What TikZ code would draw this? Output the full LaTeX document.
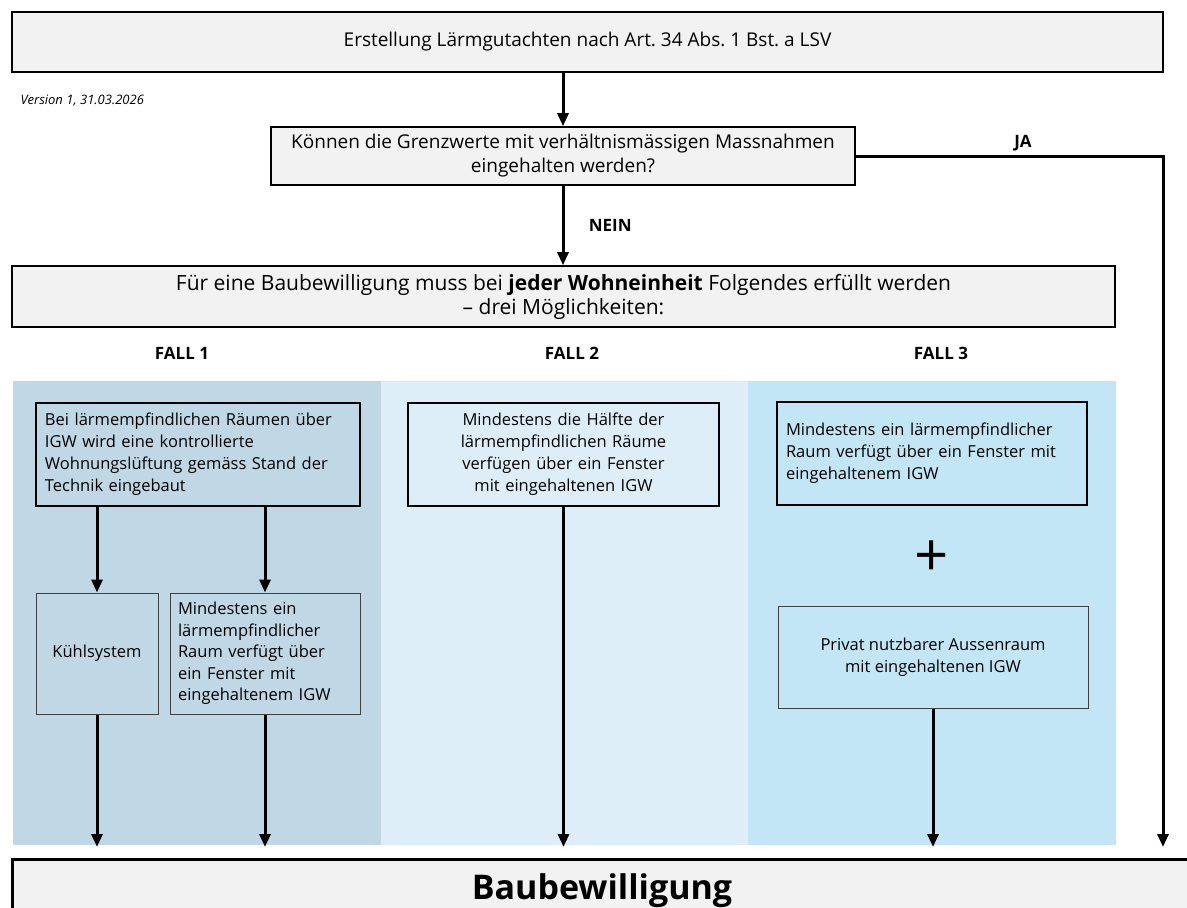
\documentclass[tikz,border=0pt]{standalone}
\usepackage{fontspec}
\setmainfont{Open Sans}
\usepackage{xcolor}
\usetikzlibrary{arrows.meta, positioning, calc}

\definecolor{kastengrau}{HTML}{F2F2F2}
\definecolor{falleins}{HTML}{C0D8E5}
\definecolor{fallzwei}{HTML}{DEEEF8}
\definecolor{falldrei}{HTML}{C3E6F6}
\newcommand{\schrift}[2]{\fontsize{#1}{#2}\selectfont}

\begin{document}
\begin{tikzpicture}[x=1pt, y=-1pt,
    kasten/.style={draw, line width=1.6pt, fill=kastengrau, align=center},
    fallbox/.style={draw, line width=1.4pt, inner sep=9pt, font=\schrift{16.5}{22}},
    unterbox/.style={draw=black!75, line width=1pt, inner sep=8pt, font=\schrift{16.5}{21.5}},
    pfeil/.style={line width=3pt, -{Triangle[length=13pt, width=11pt]}},
    titel/.style={font=\bfseries\schrift{17}{19}}]
    \useasboundingbox (0,0) rectangle (1187,908);

    % Start
    \node[kasten, minimum width=1151pt, minimum height=60pt, font=\schrift{19}{22}] (gutachten) at (587.5,42) {Erstellung Lärmgutachten nach Art.~34 Abs.~1 Bst.~a LSV};
    \node[anchor=west, font=\itshape\schrift{13}{15}] (version) at (17,101) {Version 1, 31.03.2026};

    % Frage
    \node[kasten, minimum width=584pt, minimum height=58pt, font=\schrift{19}{24}] (frage) at (563,156) {Können die Grenzwerte mit verhältnismässigen Massnahmen\\eingehalten werden?};
    \draw[pfeil] (frage.north |- gutachten.south) -- (frage.north);

    % Bedingung
    \node[kasten, minimum width=1103pt, minimum height=61pt, font=\schrift{21}{24}] (bedingung) at (563.5,296.5) {Für eine Baubewilligung muss bei \textbf{jeder Wohneinheit} Folgendes erfüllt werden\\– drei Möglichkeiten:};
    \draw[pfeil] (frage.south) -- (frage.south |- bedingung.north) node[midway, right=21pt, titel] (nein) {NEIN};

    % JA
    \coordinate (jaecke) at (1163,156);
    \coordinate (jaende) at (1163,847);
    \draw[pfeil] (frage.east) -- (jaecke) -- (jaende);
    \node[titel] (ja) at (1023,143) {JA};

    % Faelle
    \fill[falleins] (13,381) rectangle (381,845);
    \fill[fallzwei] (381,381) rectangle (748,845);
    \fill[falldrei] (748,381) rectangle (1116,845);
    \node[titel] (fall1) at (182,353) {FALL 1};
    \node[titel] (fall2) at (572,353) {FALL 2};
    \node[titel] (fall3) at (941,353) {FALL 3};

    % Fall 1
    \node[fallbox, text width=306pt, minimum height=103pt, align=left] (lueftung) at (198,454.5) {Bei lärmempfindlichen Räumen über\\IGW wird eine kontrollierte\\Wohnungslüftung gemäss Stand der\\Technik eingebaut};
    \node[unterbox, minimum width=122pt, minimum height=121pt] (kuehl) at (97,653.5) {Kühlsystem};
    \node[unterbox, text width=174pt, minimum height=121pt, align=left] (fenster) at (265,653.5) {Mindestens ein\\lärmempfindlicher\\Raum verfügt über\\ein Fenster mit\\eingehaltenem IGW};
    \draw[pfeil] (kuehl.north |- lueftung.south) -- (kuehl.north);
    \draw[pfeil] (fenster.north |- lueftung.south) -- (fenster.north);
    \draw[pfeil] (kuehl.south) -- (kuehl.south |- jaende);
    \draw[pfeil] (fenster.south) -- (fenster.south |- jaende);

    % Fall 2
    \node[fallbox, text width=293pt, minimum height=103pt, align=center] (haelfte) at (563.5,454.5) {Mindestens die Hälfte der\\lärmempfindlichen Räume\\verfügen über ein Fenster\\mit eingehaltenen IGW};
    \draw[pfeil] (haelfte.south) -- (haelfte.south |- jaende);

    % Fall 3
    \node[fallbox, text width=292pt, minimum height=103pt, align=left] (raum) at (932,453.5) {Mindestens ein lärmempfindlicher\\Raum verfügt über ein Fenster mit\\eingehaltenem IGW};
    \node[font=\schrift{60}{60}] (plus) at (932,559) {+};
    \node[unterbox, minimum width=310pt, minimum height=102pt, align=center] (aussen) at (933,657) {Privat nutzbarer Aussenraum\\mit eingehaltenen IGW};
    \draw[pfeil] (aussen.south) -- (aussen.south |- jaende);

    % Ende
    \node[kasten, line width=3pt, minimum width=1180pt, minimum height=64pt, font=\bfseries\schrift{34}{36}] (bewilligung) at (602,891) {Baubewilligung};
\end{tikzpicture}
\end{document}
